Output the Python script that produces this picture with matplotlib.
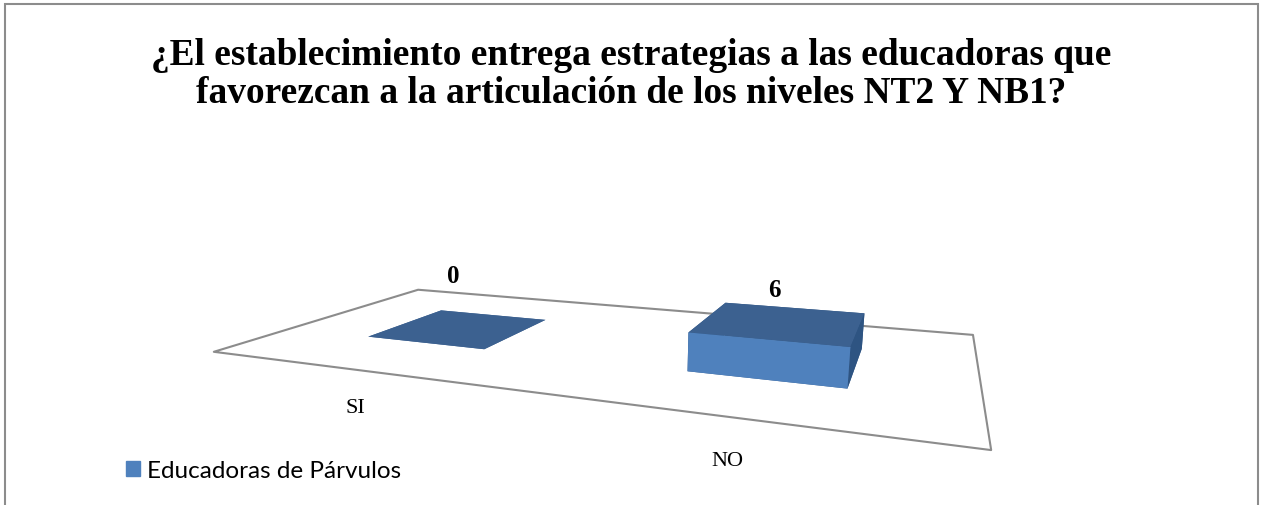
import numpy as np
import matplotlib.pyplot as plt
from matplotlib.patches import Patch, Rectangle
from mpl_toolkits.mplot3d.art3d import Poly3DCollection

categories = ['SI', 'NO']
values = [0, 6]
series_name = 'Educadoras de Párvulos'
title = ('¿El establecimiento entrega estrategias a las educadoras que\n'
         'favorezcan a la articulación de los niveles NT2 Y NB1?')

bar_front = '#4f81bd'
bar_top = '#3c6190'
bar_side = '#2e5482'
grey = '#8c8c8c'

fig = plt.figure(figsize=(12.63, 5.05), dpi=100)

# chart area border (open at the bottom edge of the image)
fig.patches.append(Rectangle((5 / 1263, -0.1), 1253 / 1263, 1.1 - 4 / 505,
                             transform=fig.transFigure, fill=False,
                             edgecolor=grey, lw=1.5))

fig.text(0.5, 0.852, title, ha='center', va='center', family='Liberation Serif',
         fontweight='bold', fontsize=26.9, linespacing=1.1)

# square 3-D axes, larger than the figure so the floor gets the right scale
ax = fig.add_axes([0.1793, -0.401, 0.5883, 1.4713], projection='3d',
                  computed_zorder=False)
ax.set_proj_type('persp', focal_length=0.2043)
ax.view_init(elev=13.4, azim=-68.5)
ax.set_box_aspect((2, 1, 0.1))
ax.set_xlim(0, 2)
ax.set_ylim(0, 1)
ax.set_zlim(0, 5.8)
ax.set_axis_off()

# floor of the 3-D plot area
floor = Poly3DCollection([[(0, 0, 0), (2, 0, 0), (2, 1, 0), (0, 1, 0)]],
                         facecolor='white', edgecolor=grey, linewidth=1.5)
ax.add_collection3d(floor)
floor.set_clip_on(False)

width, depth = 0.4, 0.4
for i, (cat, v) in enumerate(zip(categories, values)):
    x0 = i + 0.5 - width / 2
    # face order of bar3d: bottom, top, front, back, left, right
    bars = ax.bar3d(x0, 0.3, 0, width, depth, v, shade=False,
                    color=[bar_top, bar_top, bar_front, bar_side, bar_side, bar_side])
    bars.set_clip_on(False)
    # value label above the bar (flat bars get lifted a bit)
    ax.text(i + 0.48, 0.5, max(v, 4.2) + 3.2, str(v), ha='center', va='bottom',
            family='Liberation Serif', fontweight='bold', fontsize=18, clip_on=False)
    ax.text(i + 0.48, 0, -4.8, cat, ha='center', va='top',
            family='Liberation Serif', fontsize=16, clip_on=False)

fig.legend(handles=[Patch(color=bar_front)], labels=[series_name],
           loc='center left', bbox_to_anchor=(0.0823, 0.0673), frameon=False,
           prop={'family': 'Lato', 'size': 17.5}, handlelength=0.57,
           handleheight=0.57, handletextpad=0.3)

fig.savefig('out.png', dpi=100)
